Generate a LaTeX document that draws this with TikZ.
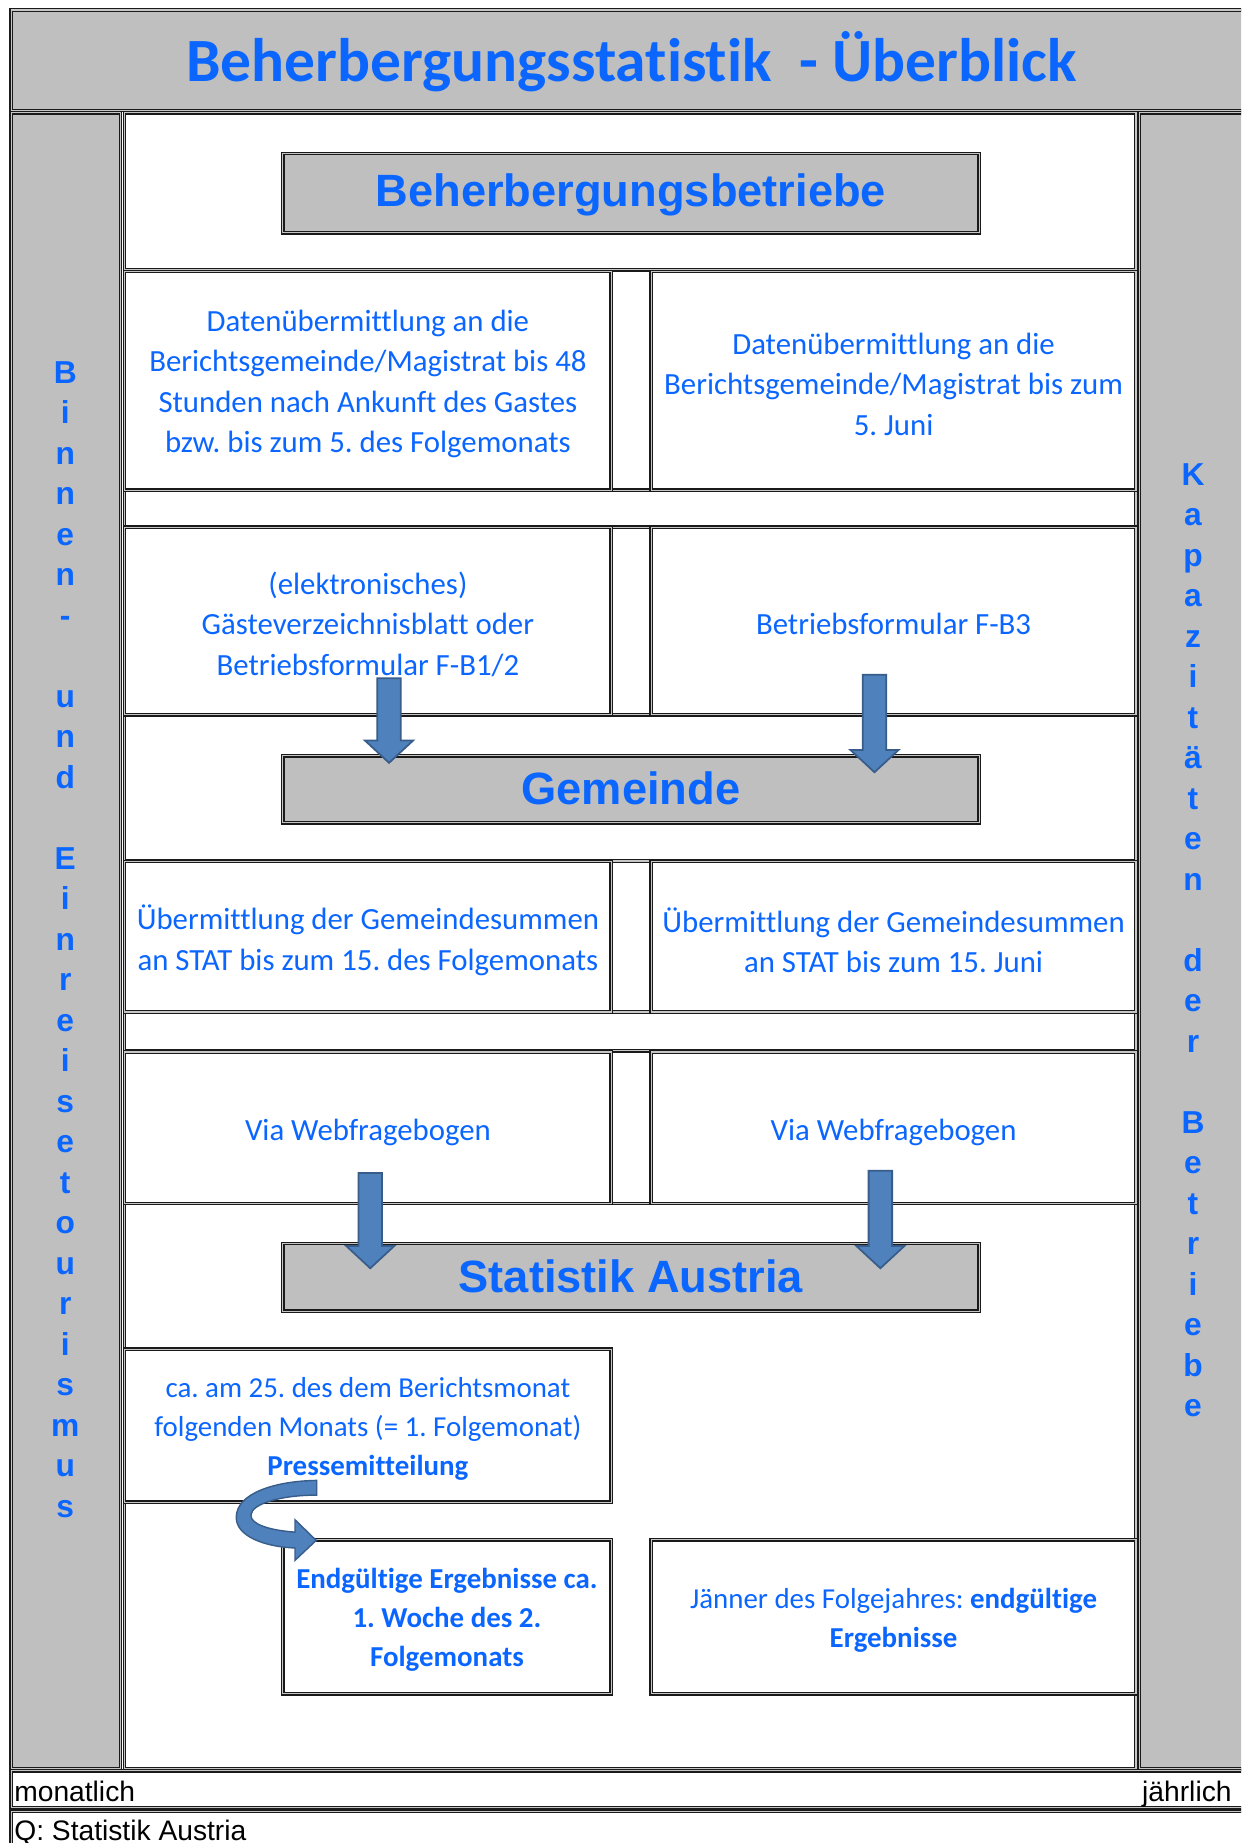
\documentclass[tikz,border=0pt]{standalone}
\usepackage{fontspec}
\setmainfont{Carlito}[Ligatures=NoCommon]
\newfontfamily\arialf{Liberation Sans}
\usetikzlibrary{calc}
\frenchspacing
\definecolor{tblue}{HTML}{0A66FF}
\definecolor{cellgray}{HTML}{BFBFBF}
\definecolor{arrfill}{HTML}{4F81BD}
\definecolor{arrline}{HTML}{385D8A}
\definecolor{bline}{HTML}{1A1A1A}
\newcommand{\bkarrow}[2]{%
  \draw[blkarrow] let \p1=(#1), \p2=(#2) in
    (\x1-10pt,\y1) -- (\x1+10pt,\y1) -- (\x1+10pt,\y2+19pt) -- (\x1+20.5pt,\y2+19pt)
    -- (\x1,\y2) -- (\x1-20.5pt,\y2+19pt) -- (\x1-10pt,\y2+19pt) -- cycle;}
% \cellnode[style]{name}{x1}{y1}{x2}{y2}{text}
\newcommand{\cellnode}[7][]{%
  \node[#1, minimum width={#5-#3}, minimum height={#6-#4}] (#2) at ({(#3+#5)/2},{(#4+#6)/2}) {#7};}
% \celltext[style]{cell name}{text}
\newcommand{\celltext}[3][]{%
  \node[#1] (#2-t) at ([yshift=-2.8pt]#2.center) {#3};}
\begin{document}
\frenchspacing
\begin{tikzpicture}[x=1pt,y=-1pt,
  dbl/.style={draw=bline, line width=1.1pt, double=gray!45, double distance=1pt},
  wcell/.style={dbl, fill=white, inner sep=0pt, outer sep=0pt},
  graycell/.style={dbl, fill=cellgray, inner sep=0pt, outer sep=0pt},
  body/.style={font=\fontsize{26.2}{34.5}\selectfont, text=tblue, align=center, inner sep=0pt},
  bodys/.style={font=\fontsize{24.6}{33}\selectfont, text=tblue, align=center, inner sep=0pt},
  head/.style={font=\arialf\bfseries\fontsize{38.5}{40}\selectfont, text=tblue},
  vlet/.style={font=\arialf\bfseries\fontsize{27}{27}\selectfont, text=tblue, anchor=base, inner sep=0pt},
  foot/.style={font=\arialf\fontsize{24}{24}\selectfont, text=black, inner sep=0pt},
  blkarrow/.style={fill=arrfill, draw=arrline, line width=1.5pt, line join=miter}]
\useasboundingbox (0,0) rectangle (1056,1568);
\clip (0,0) rectangle (1056,1568);
\fill[white] (0,0) rectangle (1056,1568);

% frame
\cellnode[graycell, font=\bfseries\fontsize{52.3}{56}\selectfont, text=tblue, text height=36pt, text depth=0.5pt]{title}{9.5}{8.5}{1065}{94}{Beherbergungsstatistik~ - Überblick}
\cellnode[graycell]{lcol}{9.5}{96}{102.5}{1505}{}
\cellnode[graycell]{rcol}{969.5}{96}{1065}{1505}{}

% sections
\cellnode[wcell]{topsec}{106}{96}{966.5}{229.5}{}
\cellnode[wcell]{strip1}{106}{417}{966.5}{448.5}{}
\cellnode[wcell]{gemsec}{106}{608}{966.5}{732.5}{}
\cellnode[wcell]{strip2}{106}{861}{966.5}{894}{}
\cellnode[wcell]{statsec}{106}{1024}{966.5}{1505}{}

% headers
\cellnode[graycell, head, text height=27.5pt, text depth=4pt]{bbetr}{240.5}{130.5}{833}{198}{Beherbergungsbetriebe}
\cellnode[graycell, head, text height=27.5pt, text depth=1pt]{gem}{240.5}{643}{833}{700}{Gemeinde}
\cellnode[graycell, head, text height=27.5pt, text depth=1pt]{stat}{240.5}{1058}{833}{1115.5}{Statistik Austria}

% cells
\cellnode[wcell]{r1l}{106}{231}{520}{417}{}
\celltext[body]{r1l}{Datenübermittlung an die\\Berichtsgemeinde/Magistrat bis 48\\Stunden nach Ankunft des Gastes\\bzw. bis zum 5. des Folgemonats}
\cellnode[wcell]{r1r}{554}{231}{966.5}{417}{}
\celltext[body]{r1r}{Datenübermittlung an die\\Berichtsgemeinde/Magistrat bis zum\\5. Juni}
\cellnode[wcell]{r2l}{106}{448.5}{520}{608}{}
\celltext[body]{r2l}{(elektronisches)\\Gästeverzeichnisblatt oder\\Betriebsformular F-B1/2}
\cellnode[wcell]{r2r}{554}{448.5}{966.5}{608}{}
\celltext[body]{r2r}{Betriebsformular F-B3}
\cellnode[wcell]{r3l}{106}{733}{520}{861}{}
\celltext[body]{r3l}{Übermittlung der Gemeindesummen\\an STAT bis zum 15. des Folgemonats}
\cellnode[wcell]{r3r}{554}{733}{966.5}{861}{}
\celltext[body]{r3r}{Übermittlung der Gemeindesummen\\an STAT bis zum 15. Juni}
\cellnode[wcell]{r4l}{106}{895}{520}{1024}{}
\celltext[body, yshift=-1pt]{r4l}{Via Webfragebogen}
\cellnode[wcell]{r4r}{554}{895}{966.5}{1024}{}
\celltext[body, yshift=-1pt]{r4r}{Via Webfragebogen}
\cellnode[wcell]{r5l}{106}{1148}{520}{1278}{}
\celltext[bodys]{r5l}{ca. am 25. des dem Berichtsmonat\\folgenden Monats (= 1. Folgemonat)\\\textbf{Pressemitteilung}}
\cellnode[wcell]{endg}{240.5}{1310}{520}{1441}{}
\celltext[bodys]{endg}{\textbf{Endgültige Ergebnisse ca.}\\\textbf{1. Woche des 2.}\\\textbf{Folgemonats}}
\cellnode[wcell]{jaen}{554}{1310}{966.5}{1441}{}
\celltext[bodys]{jaen}{Jänner des Folgejahres: \textbf{endgültige}\\\textbf{Ergebnisse}}

% arrows
\coordinate (a1s) at (331,577);  \coordinate (a1e) at (331,649);
\coordinate (a2s) at (744,574);  \coordinate (a2e) at (744,657);
\coordinate (a3s) at (315,998);  \coordinate (a3e) at (315,1079);
\coordinate (a4s) at (749,996);  \coordinate (a4e) at (749,1079);
\bkarrow{a1s}{a1e}
\bkarrow{a2s}{a2e}
\bkarrow{a3s}{a3e}
\bkarrow{a4s}{a4e}
\draw[blkarrow, line width=1.2pt] (269.5,1259.5) .. controls (235,1260) and (201,1270) .. (201,1291)
  .. controls (201,1307) and (225,1316) .. (251,1317)
  -- (251,1327.5) -- (269,1310.5) -- (251,1293) -- (251,1303.5)
  .. controls (230,1302) and (213,1297) .. (213.5,1289)
  .. controls (214,1279) and (240,1272) .. (269.5,1272) -- cycle;

% vertical letters
\foreach \i/\c in {0/B,1/i,2/n,3/n,4/e,5/n,6/-,8/u,9/n,10/d,12/E,13/i,14/n,15/r,16/e,17/i,18/s,19/e,20/t,21/o,22/u,23/r,24/i,25/s,26/m,27/u,28/s}
  \node[vlet] (L\i) at (55.5,326+\i*34.46) {\c};
\foreach \i/\c in {0/K,1/a,2/p,3/a,4/z,5/i,6/t,7/ä,8/t,9/e,10/n,12/d,13/e,14/r,16/B,17/e,18/t,19/r,20/i,21/e,22/b,23/e}
  \node[vlet] (R\i) at (1015,413+\i*34.45) {\c};

% bottom rows
\cellnode[wcell]{brow}{9.5}{1506.5}{1065}{1538}{}
\node[foot, anchor=base west] (monat) at (12,1533) {monatlich};
\node[foot, anchor=base east] (jaehr) at (1048,1533) {jährlich};
\cellnode[wcell]{qrow}{9.5}{1541}{1065}{1600}{}
\node[foot, anchor=base west] (quelle) at (12,1566) {Q: Statistik Austria};
\end{tikzpicture}
\end{document}
